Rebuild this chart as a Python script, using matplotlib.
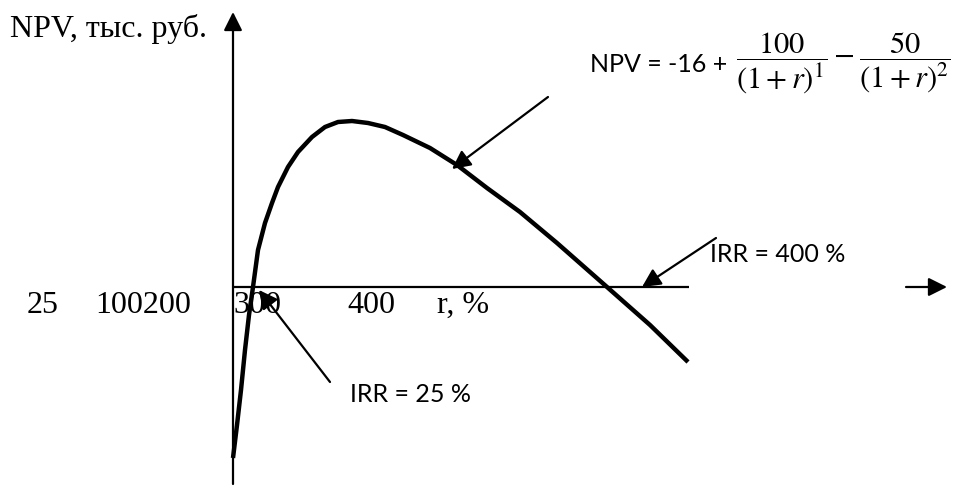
"""NPV vs discount rate sketch: two IRR points, redrawn as a flat diagram."""
import matplotlib.pyplot as plt

# canvas is laid out in picture pixels (x right, y down)
W, H = 954, 486

# NPV curve, points
curve_x = [233, 237, 241, 245, 249, 253, 258, 265, 272, 278, 288, 298, 312,
           325, 338, 352, 368, 385, 403, 430, 457, 487, 520, 557, 607, 650, 688]
curve_y = [458, 425, 390, 350, 315, 287, 250, 223, 203, 187, 167, 152, 137,
           127, 122, 121, 123, 127, 135, 148, 165, 188, 212, 243, 287, 325, 362]

# axes
y_axis_x = 233
y_axis_span = (484, 12)
x_axis_y = 287
x_axis_span = (233, 689)
x_arrow_span = (906, 947)

# tick labels along the r axis (as they were typed in the source)
tick_labels = ["25", "100200", "300", "400", "r, %"]
tick_x = [27, 95, 233, 347, 437]
tick_baseline = 313

# callouts: (text, text x, text baseline, arrow tail, arrow head)
callouts = [
    ("IRR = 400 %", 710, 262, (716, 238), (642, 287)),
    ("IRR = 25 %", 350, 402, (330, 382), (259, 290)),
]
curve_pointer = ((548, 97), (452, 169))

SERIF = "Liberation Serif"
SANS = "Lato"

plt.rcParams["mathtext.fontset"] = "stix"

fig = plt.figure(figsize=(W / 100, H / 100), dpi=100)
ax = fig.add_axes([0, 0, 1, 1])
ax.set_xlim(0, W)
ax.set_ylim(H, 0)
ax.axis("off")

arrow = dict(arrowstyle="-|>", color="black", lw=1.6,
             mutation_scale=28, shrinkA=0, shrinkB=0)

# vertical NPV axis with arrow at the top
ax.annotate("", xy=(y_axis_x, y_axis_span[1]), xytext=(y_axis_x, y_axis_span[0]),
            arrowprops=arrow)
# horizontal r line and the detached arrow on the right
ax.plot(x_axis_span, [x_axis_y, x_axis_y], color="black", lw=1.6,
        solid_capstyle="butt")
ax.annotate("", xy=(x_arrow_span[1], x_axis_y), xytext=(x_arrow_span[0], x_axis_y),
            arrowprops=arrow)

ax.plot(curve_x, curve_y, color="black", lw=3.2, solid_joinstyle="round",
        solid_capstyle="butt")

ax.text(10, 37, "NPV, тыс. руб.", family=SERIF, fontsize=23, va="baseline")
for lab, x in zip(tick_labels, tick_x):
    ax.text(x, tick_baseline, lab, family=SERIF, fontsize=23, va="baseline")

for text, tx, ty, tail, head in callouts:
    ax.annotate("", xy=head, xytext=tail, arrowprops=arrow)
    ax.text(tx, ty, text, family=SANS, fontsize=18, va="baseline")
ax.annotate("", xy=curve_pointer[1], xytext=curve_pointer[0], arrowprops=arrow)

# formula
ax.text(590, 72, "NPV = -16 +", family=SANS, fontsize=18, va="baseline")
ax.text(736, 63, r"$\dfrac{100}{(1+r)^1}-\dfrac{50}{(1+r)^2}$",
        fontsize=22, va="center")

fig.savefig("out.png", dpi=100)
